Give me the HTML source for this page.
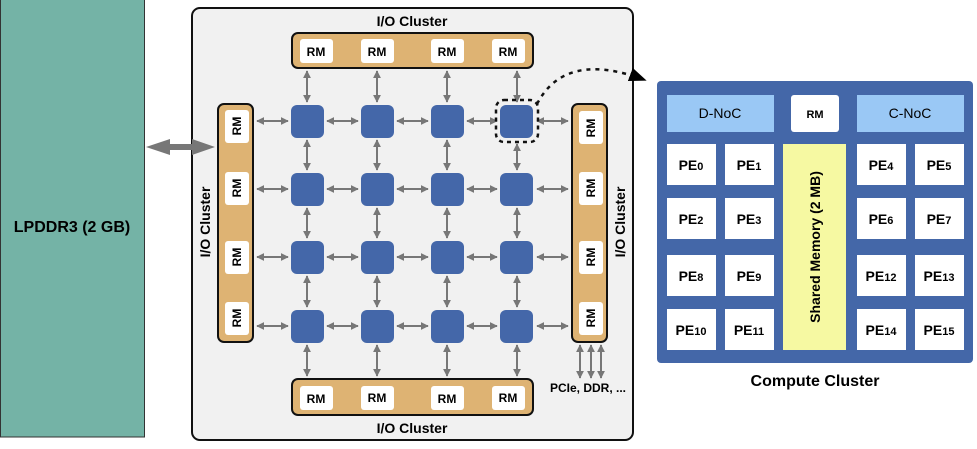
<!DOCTYPE html>
<html><head><meta charset="utf-8"><style>
html,body{margin:0;padding:0;background:#fff;}
svg{display:block;font-family:"Liberation Sans",Arial,sans-serif;}
</style></head><body>
<svg width="977" height="449" viewBox="0 0 977 449" xmlns="http://www.w3.org/2000/svg">
<defs>
<marker id="a" viewBox="0 0 10 10" refX="9" refY="5" markerWidth="4" markerHeight="4" orient="auto-start-reverse">
<path d="M0,0 L10,5 L0,10 z" fill="#777"/></marker>
<marker id="b" viewBox="0 0 10 10" refX="9" refY="5" markerWidth="7" markerHeight="7" orient="auto">
<path d="M0,1 L10,5 L0,9 z" fill="#000"/></marker>
</defs>
<!-- LPDDR -->
<rect x="0.5" y="-2" width="144" height="439" fill="#74b3a6" stroke="#333" stroke-width="1"/>
<text x="72" y="232" text-anchor="middle" font-size="16" font-weight="bold">LPDDR3 (2 GB)</text>
<!-- main box -->
<rect x="192" y="8" width="441" height="432" rx="8" fill="#f1f1f1" stroke="#111" stroke-width="2"/>
<!-- big arrow -->
<path d="M146,147 L170,139 L170,144 L192,144 L192,139 L215,147 L192,155 L192,150 L170,150 L170,155 Z" fill="#777"/>
<text x="412" y="26" text-anchor="middle" font-size="14" font-weight="bold">I/O Cluster</text>
<text x="412" y="433" text-anchor="middle" font-size="14" font-weight="bold">I/O Cluster</text>
<text transform="translate(210,222) rotate(-90)" text-anchor="middle" font-size="14" font-weight="bold">I/O Cluster</text>
<text transform="translate(625,222) rotate(-90)" text-anchor="middle" font-size="14" font-weight="bold">I/O Cluster</text>
<!-- IO clusters -->
<g fill="#deb373" stroke="#111" stroke-width="2">
<rect x="292" y="33" width="241" height="35" rx="6"/>
<rect x="292" y="379" width="241" height="36" rx="6"/>
<rect x="218" y="104" width="35" height="238" rx="6"/>
<rect x="572" y="104" width="35" height="238" rx="6"/>
</g>
<g fill="#fff">
<rect x="300" y="39" width="33" height="24" rx="3"/><rect x="361" y="39" width="33" height="24" rx="3"/>
<rect x="431" y="39" width="33" height="24" rx="3"/><rect x="492" y="39" width="33" height="24" rx="3"/>
<rect x="300" y="386" width="33" height="24" rx="3"/><rect x="361" y="386" width="33" height="24" rx="3"/>
<rect x="431" y="386" width="33" height="24" rx="3"/><rect x="492" y="386" width="33" height="24" rx="3"/>
<rect x="225" y="110" width="24" height="33" rx="3"/><rect x="225" y="172" width="24" height="33" rx="3"/>
<rect x="225" y="241" width="24" height="33" rx="3"/><rect x="225" y="302" width="24" height="33" rx="3"/>
<rect x="579" y="111" width="24" height="33" rx="3"/><rect x="579" y="172" width="24" height="33" rx="3"/>
<rect x="579" y="241" width="24" height="33" rx="3"/><rect x="579" y="302" width="24" height="33" rx="3"/>
</g>
<g font-size="12" font-weight="bold" text-anchor="middle">
<text x="316" y="56">RM</text><text x="377" y="56">RM</text><text x="447" y="56">RM</text><text x="508" y="56">RM</text>
<text x="316" y="403">RM</text><text x="377" y="402">RM</text><text x="447" y="403">RM</text><text x="508" y="402">RM</text>
<text transform="translate(241,126) rotate(-90)">RM</text><text transform="translate(241,188) rotate(-90)">RM</text>
<text transform="translate(241,257) rotate(-90)">RM</text><text transform="translate(241,318) rotate(-90)">RM</text>
<text transform="translate(595,128) rotate(-90)">RM</text><text transform="translate(595,188) rotate(-90)">RM</text>
<text transform="translate(595,257) rotate(-90)">RM</text><text transform="translate(595,318) rotate(-90)">RM</text>
</g>
<!-- arrows -->
<g stroke="#777" stroke-width="2" marker-start="url(#a)" marker-end="url(#a)">
<line x1="257" y1="121" x2="288" y2="121"/><line x1="327" y1="121" x2="358" y2="121"/><line x1="397" y1="121" x2="428" y2="121"/><line x1="467" y1="121" x2="497" y2="121"/><line x1="537" y1="121" x2="568" y2="121"/>
<line x1="257" y1="189" x2="288" y2="189"/><line x1="327" y1="189" x2="358" y2="189"/><line x1="397" y1="189" x2="428" y2="189"/><line x1="467" y1="189" x2="497" y2="189"/><line x1="537" y1="189" x2="568" y2="189"/>
<line x1="257" y1="257" x2="288" y2="257"/><line x1="327" y1="257" x2="358" y2="257"/><line x1="397" y1="257" x2="428" y2="257"/><line x1="467" y1="257" x2="497" y2="257"/><line x1="537" y1="257" x2="568" y2="257"/>
<line x1="257" y1="326" x2="288" y2="326"/><line x1="327" y1="326" x2="358" y2="326"/><line x1="397" y1="326" x2="428" y2="326"/><line x1="467" y1="326" x2="497" y2="326"/><line x1="537" y1="326" x2="568" y2="326"/>
<line x1="307" y1="71" x2="307" y2="102"/><line x1="377" y1="71" x2="377" y2="102"/><line x1="447" y1="71" x2="447" y2="102"/><line x1="517" y1="71" x2="517" y2="102"/>
<line x1="307" y1="140" x2="307" y2="170"/><line x1="377" y1="140" x2="377" y2="170"/><line x1="447" y1="140" x2="447" y2="170"/><line x1="517" y1="144" x2="517" y2="170"/>
<line x1="307" y1="208" x2="307" y2="238"/><line x1="377" y1="208" x2="377" y2="238"/><line x1="447" y1="208" x2="447" y2="238"/><line x1="517" y1="208" x2="517" y2="238"/>
<line x1="307" y1="276" x2="307" y2="307"/><line x1="377" y1="276" x2="377" y2="307"/><line x1="447" y1="276" x2="447" y2="307"/><line x1="517" y1="276" x2="517" y2="307"/>
<line x1="307" y1="345" x2="307" y2="376"/><line x1="377" y1="345" x2="377" y2="376"/><line x1="447" y1="345" x2="447" y2="376"/><line x1="517" y1="345" x2="517" y2="376"/>
<line x1="580" y1="345" x2="580" y2="378"/><line x1="591" y1="345" x2="591" y2="378"/><line x1="601" y1="345" x2="601" y2="378"/>
</g>
<text x="588" y="392" text-anchor="middle" font-size="12" font-weight="bold">PCIe, DDR, ...</text>
<!-- routers -->
<g fill="#4467a9">
<rect x="291" y="105" width="33" height="33" rx="6"/><rect x="361" y="105" width="33" height="33" rx="6"/><rect x="431" y="105" width="33" height="33" rx="6"/><rect x="500" y="105" width="33" height="33" rx="6"/>
<rect x="291" y="173" width="33" height="33" rx="6"/><rect x="361" y="173" width="33" height="33" rx="6"/><rect x="431" y="173" width="33" height="33" rx="6"/><rect x="500" y="173" width="33" height="33" rx="6"/>
<rect x="291" y="241" width="33" height="33" rx="6"/><rect x="361" y="241" width="33" height="33" rx="6"/><rect x="431" y="241" width="33" height="33" rx="6"/><rect x="500" y="241" width="33" height="33" rx="6"/>
<rect x="291" y="310" width="33" height="33" rx="6"/><rect x="361" y="310" width="33" height="33" rx="6"/><rect x="431" y="310" width="33" height="33" rx="6"/><rect x="500" y="310" width="33" height="33" rx="6"/>
</g>
<!-- dashed highlight -->
<rect x="496" y="100" width="42" height="42" rx="8" fill="none" stroke="#111" stroke-width="2.5" stroke-dasharray="4,4"/>
<path d="M537,104 Q565,50 645,80" fill="none" stroke="#111" stroke-width="2.5" stroke-dasharray="4,5" marker-end="url(#b)"/>
<!-- compute cluster -->
<rect x="657" y="81" width="316" height="282" rx="4" fill="#4467a8"/>
<rect x="667" y="95" width="107" height="37" fill="#9ac8f5"/>
<rect x="857" y="95" width="107" height="37" fill="#9ac8f5"/>
<rect x="791" y="95" width="48" height="37" rx="3" fill="#fff"/>
<text x="720" y="118" text-anchor="middle" font-size="14">D-NoC</text>
<text x="910" y="118" text-anchor="middle" font-size="14">C-NoC</text>
<text x="815" y="118" text-anchor="middle" font-size="11" font-weight="bold">RM</text>
<rect x="783" y="144" width="63" height="206" fill="#f6f9a2"/>
<text transform="translate(820,247) rotate(-90)" text-anchor="middle" font-size="14" font-weight="bold">Shared Memory (2 MB)</text>
<g fill="#fff">
<rect x="667" y="144" width="49" height="41"/><rect x="725" y="144" width="49" height="41"/><rect x="857" y="144" width="49" height="41"/><rect x="915" y="144" width="49" height="41"/>
<rect x="667" y="198" width="49" height="41"/><rect x="725" y="198" width="49" height="41"/><rect x="857" y="198" width="49" height="41"/><rect x="915" y="198" width="49" height="41"/>
<rect x="667" y="255" width="49" height="41"/><rect x="725" y="255" width="49" height="41"/><rect x="857" y="255" width="49" height="41"/><rect x="915" y="255" width="49" height="41"/>
<rect x="667" y="309" width="49" height="41"/><rect x="725" y="309" width="49" height="41"/><rect x="857" y="309" width="49" height="41"/><rect x="915" y="309" width="49" height="41"/>
</g>
<g font-size="14" font-weight="bold" text-anchor="middle">
<text x="691" y="170">PE<tspan font-size="11">0</tspan></text><text x="749" y="170">PE<tspan font-size="11">1</tspan></text><text x="881" y="170">PE<tspan font-size="11">4</tspan></text><text x="939" y="170">PE<tspan font-size="11">5</tspan></text>
<text x="691" y="224">PE<tspan font-size="11">2</tspan></text><text x="749" y="224">PE<tspan font-size="11">3</tspan></text><text x="881" y="224">PE<tspan font-size="11">6</tspan></text><text x="939" y="224">PE<tspan font-size="11">7</tspan></text>
<text x="691" y="281">PE<tspan font-size="11">8</tspan></text><text x="749" y="281">PE<tspan font-size="11">9</tspan></text><text x="881" y="281">PE<tspan font-size="11">12</tspan></text><text x="939" y="281">PE<tspan font-size="11">13</tspan></text>
<text x="691" y="335">PE<tspan font-size="11">10</tspan></text><text x="749" y="335">PE<tspan font-size="11">11</tspan></text><text x="881" y="335">PE<tspan font-size="11">14</tspan></text><text x="939" y="335">PE<tspan font-size="11">15</tspan></text>
</g>
<text x="815" y="386" text-anchor="middle" font-size="16" font-weight="bold">Compute Cluster</text>
</svg>
</body></html>
